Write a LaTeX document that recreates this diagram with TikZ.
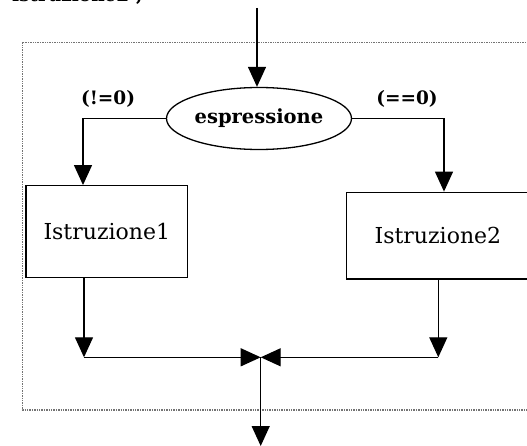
\documentclass[tikz,border=0pt]{standalone}
\usepackage{fontspec}
\setmainfont{DejaVu Serif}
\usetikzlibrary{arrows.meta,shapes.geometric}
\tikzset{
  arr/.style={line width=1.3pt,-{Triangle[length=20pt,width=18pt]}},
  ln/.style={line width=1.3pt},
  frame/.style={line width=1.4pt,densely dotted,black!55},
  boxn/.style={draw,line width=1.3pt,inner sep=0pt,font=\fontsize{22}{26}\selectfont},
  ell/.style={draw,ellipse,line width=1.3pt,inner sep=0pt,minimum width=185pt,minimum height=62pt,font=\bfseries\fontsize{19.5}{23}\selectfont},
  lbl/.style={inner sep=0pt,font=\bfseries\fontsize{18.5}{22}\selectfont},
}
\begin{document}
\begin{tikzpicture}[x=1pt,y=-1pt]
\useasboundingbox (0,0) rectangle (527,446);
% dotted frame
\draw[frame] (22.7,42.3) rectangle (545,410);
% cut-off text at top
\node[lbl, anchor=base west] (prev) at (12,1.5) {istruzione2 ;};
% nodes
\node[ell] (espr) at (259,118.5) {espressione};
\node[boxn, minimum width=161.7pt, minimum height=92pt] (i1) at (106.8,231.7) {Istruzione1};
\node[boxn, minimum width=182.3pt, minimum height=86.7pt] (i2) at (437.9,235.6) {Istruzione2};
\node[lbl] (lne) at (108,99) {(!=0)};
\node[lbl] (leq) at (407,99) {(==0)};
% coordinates
\coordinate (top) at (257,8);
\coordinate (lc) at (83,118.5);
\coordinate (rc) at (444,118.5);
\coordinate (ll) at (84,357.3);
\coordinate (rl) at (438.3,357.3);
\coordinate (m) at (260.7,357.3);
\coordinate (bot) at (260.7,446);
% connectors
\draw[arr] (top) -- (top |- espr.north);
\draw[ln] (espr.west) -- (lc);
\draw[arr] (lc) -- (lc |- i1.north);
\draw[ln] (espr.east) -- (rc);
\draw[arr] (rc) -- (rc |- i2.north);
\draw[arr] (ll |- i1.south) -- (ll);
\draw[arr] (rl |- i2.south) -- (rl);
\draw[arr] (ll) -- (m);
\draw[arr] (rl) -- (m);
\draw[arr] (m) -- (bot);
\end{tikzpicture}
\end{document}
